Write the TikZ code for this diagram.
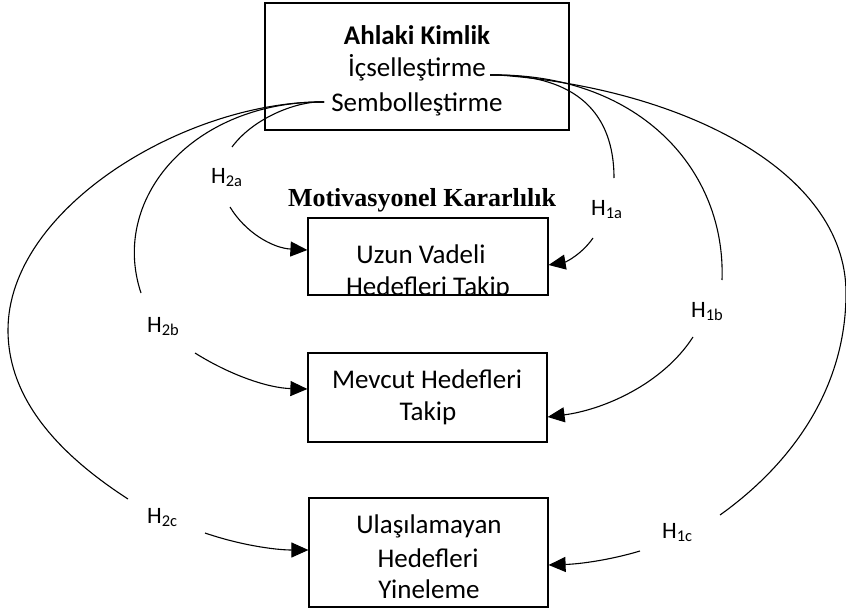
\documentclass[tikz,border=0pt]{standalone}
\usepackage{fontspec}
\setmainfont{Carlito}
\newfontfamily\timesfont{Liberation Serif}
\usetikzlibrary{arrows.meta,calc}
\begin{document}
\begin{tikzpicture}[x=1pt,y=-1pt,
  boxs/.style={draw, line width=1.2pt, inner sep=0pt, rectangle},
  txt/.style={font=\fontsize{27}{33}\selectfont, anchor=base, inner sep=0pt},
  hyp/.style={font=\fontsize{23.5}{28}\selectfont, anchor=base west, inner sep=0pt},
  link/.style={line width=1.1pt},
  arr/.style={line width=1.1pt, -{Triangle[length=17pt,width=15pt]}}]
\useasboundingbox (0,0) rectangle (846,610);

% boxes
\node[draw, line width=2.6pt, minimum width=304pt, minimum height=127pt, inner sep=0pt] (b0) at (417,66.5) {};
\node[boxs, minimum width=240pt, minimum height=77pt] (b1) at (428,256.5) {};
\node[boxs, minimum width=239pt, minimum height=89pt] (b2) at (427.5,397.5) {};
\node[boxs, minimum width=239pt, minimum height=109pt] (b3) at (428.5,552.5) {};

% texts
\node[txt, font=\fontsize{27}{33}\selectfont\bfseries] (t0) at (417,45) {Ahlaki Kimlik};
\node[txt] (t1) at (417,77) {İçselleştirme};
\node[txt] (t2) at (417,111) {Sembolleştirme};
\node[txt, font=\fontsize{26}{32}\selectfont\timesfont\bfseries] (mk) at (422,206) {Motivasyonel Kararlılık};

\begin{scope}
\clip ([shift={(0.6pt,0.6pt)}]b1.south west) rectangle ([shift={(-0.6pt,-0.6pt)}]b1.north east);
\node[txt] (u1) at (421,263) {Uzun Vadeli};
\node[txt] (u2) at (428,295) {Hedefleri Takip};
\end{scope}
\node[txt] (m1) at (427,388) {Mevcut Hedefleri};
\node[txt] (m2) at (428,420) {Takip};
\node[txt] (y1) at (429,533) {Ulaşılamayan};
\node[txt] (y2) at (428,567) {Hedefleri};
\node[txt] (y3) at (429,598) {Yineleme};

% hypothesis labels
\node[hyp] (h2a) at (211,183) {H\textsubscript{2a}};
\node[hyp] (h1a) at (591,215) {H\textsubscript{1a}};
\node[hyp] (h2b) at (147,332) {H\textsubscript{2b}};
\node[hyp] (h1b) at (691,317) {H\textsubscript{1b}};
\node[hyp] (h2c) at (147,523) {H\textsubscript{2c}};
\node[hyp] (h1c) at (662,538) {H\textsubscript{1c}};

% curve start points
\coordinate (ie) at ([xshift=4pt,yshift=2pt]t1.base east);
\coordinate (se) at ([xshift=-7pt,yshift=9pt]t2.base west);

% curve free ends
\coordinate (c1a) at (614,178);
\coordinate (c1b) at (722,280);
\coordinate (c1c) at (720,515);
\coordinate (c2a) at (232,147);
\coordinate (c2b) at (141,293);
\coordinate (c2c) at (128,499);

% arrow starts
\coordinate (s2a) at (230,207);
\coordinate (s1a) at (593,238);
\coordinate (s2b) at (195,353);
\coordinate (s1b) at (693,337);
\coordinate (s2c) at (205,533);
\coordinate (s1c) at (640,551);

% arrow ends on boxes
\coordinate (e2a) at ([yshift=6.5pt]b1.west);
\coordinate (e1a) at ([yshift=-8.5pt]b1.east);
\coordinate (e2b) at ([yshift=8.5pt]b2.west);
\coordinate (e1b) at ([yshift=-19.5pt]b2.east);
\coordinate (e2c) at ([yshift=2.5pt]b3.west);
\coordinate (e1c) at ([yshift=-12.5pt]b3.east);

% curves to the right
\draw[link] (ie) -- ++(8,0) .. controls (575,76) and (614,112) .. (c1a);
\draw[link] (ie) -- ++(8,0) .. controls (640,76) and (726,170) .. (c1b);
\draw[link] (ie) -- ++(8,0) .. controls (680,88) and (846,170) .. (846,293)
                 .. controls (846,390) and (790,465) .. (c1c);

% curves to the left
\draw[link] (se) -- ++(-8,0) .. controls (290,104) and (252,120) .. (c2a);
\draw[link] (se) -- ++(-8,0) .. controls (190,105) and (110,200) .. (c2b);
\draw[link] (se) -- ++(-8,0) .. controls (180,105) and (8,210) .. (8,330)
                 .. controls (8,400) and (60,455) .. (c2c);

% arrows into boxes
\draw[arr] (s2a) .. controls (245,232) and (272,248) .. (e2a);
\draw[arr] (s1a) .. controls (582,254) and (566,262) .. (e1a);
\draw[arr] (s2b) .. controls (230,375) and (268,388) .. (e2b);
\draw[arr] (s1b) .. controls (662,385) and (602,410) .. (e1b);
\draw[arr] (s2c) .. controls (240,545) and (275,550) .. (e2c);
\draw[arr] (s1c) .. controls (610,560) and (580,564) .. (e1c);
\end{tikzpicture}
\end{document}
